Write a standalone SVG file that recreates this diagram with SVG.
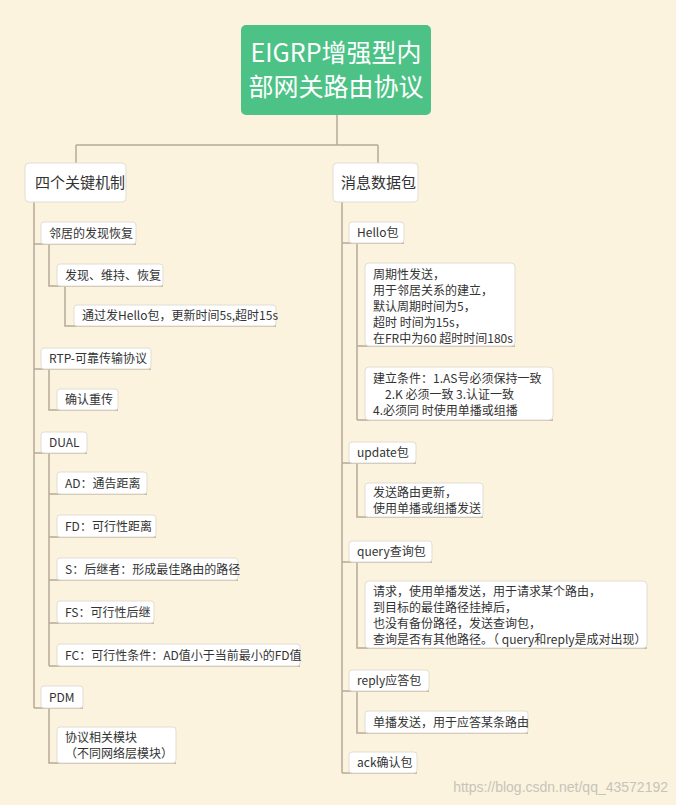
<svg xmlns="http://www.w3.org/2000/svg" width="676" height="805" viewBox="0 0 676 805">
<style>
.b{fill:#fff;stroke:#e2ddd2;stroke-width:1}
.t{font-family:"Noto Sans CJK SC","Liberation Sans",sans-serif;font-size:12px;fill:#333}
.c{fill:none;stroke:#b5ab98;stroke-width:1.5}
</style>
<rect width="676" height="805" fill="#fbf3dd"/>
<g id="connectors" class="c">
<path d="M337 115V145M76 145H378M76 145V163M378 145V163"/>
<path d="M34 202V708M34 244H136M34 369H151M34 453H87M34 708H83"/>
<path d="M49 244V286H163M65 286V326H276M49 369V410H118"/>
<path d="M49 453V666M49 494H147M49 537H156M49 580H238M49 623H154M49 666H300"/>
<path d="M49 708V763H176"/>
<path d="M342 202V773M342 243H404M342 463H416M342 562H432M342 691H429M342 773H417"/>
<path d="M357 243V420M357 346H515M357 420H553M357 463V517H483M357 562V648H647M357 691V733H528"/>
</g>
<g id="root"><rect x="241" y="25" width="190" height="90" rx="5" fill="#4dc286"/>
<text x="336" y="62" text-anchor="middle" font-family="Noto Sans CJK SC,Liberation Sans,sans-serif" font-size="25" fill="#fff">EIGRP增强型内</text>
<text x="336" y="96" text-anchor="middle" font-family="Noto Sans CJK SC,Liberation Sans,sans-serif" font-size="25" fill="#fff">部网关路由协议</text></g>
<g id="n1"><rect class="b" x="25" y="163" width="101" height="39" rx="4"/><text class="t" x="35" y="188" style="font-size:15px">四个关键机制</text></g>
<g id="n2"><rect class="b" x="333" y="163" width="85" height="39" rx="4"/><text class="t" x="341" y="188" style="font-size:15px">消息数据包</text></g>
<g id="a1"><rect class="b" x="41" y="222" width="95" height="22" rx="3"/><text class="t" x="49" y="238">邻居的发现恢复</text></g>
<g id="a2"><rect class="b" x="57" y="264" width="106" height="22" rx="3"/><text class="t" x="65" y="280">发现、维持、恢复</text></g>
<g id="a3"><rect class="b" x="74" y="305" width="202" height="21" rx="3"/><text class="t" x="82" y="320">通过发Hello包，更新时间5s,超时15s</text></g>
<g id="a4"><rect class="b" x="41" y="348" width="110" height="21" rx="3"/><text class="t" x="49" y="363">RTP-可靠传输协议</text></g>
<g id="a5"><rect class="b" x="57" y="389" width="61" height="21" rx="3"/><text class="t" x="65" y="404">确认重传</text></g>
<g id="a6"><rect class="b" x="41" y="432" width="46" height="21" rx="3"/><text class="t" x="49" y="447">DUAL</text></g>
<g id="a7"><rect class="b" x="57" y="472" width="90" height="22" rx="3"/><text class="t" x="65" y="488">AD：通告距离</text></g>
<g id="a8"><rect class="b" x="57" y="515" width="99" height="22" rx="3"/><text class="t" x="65" y="531">FD：可行性距离</text></g>
<g id="a9"><rect class="b" x="57" y="558" width="181" height="22" rx="3"/><text class="t" x="65" y="574">S：后继者：形成最佳路由的路径</text></g>
<g id="a10"><rect class="b" x="57" y="601" width="97" height="22" rx="3"/><text class="t" x="65" y="617">FS：可行性后继</text></g>
<g id="a11"><rect class="b" x="57" y="644" width="243" height="22" rx="3"/><text class="t" x="65" y="660">FC：可行性条件：AD值小于当前最小的FD值</text></g>
<g id="a12"><rect class="b" x="41" y="686" width="42" height="22" rx="3"/><text class="t" x="49" y="702">PDM</text></g>
<g id="a13"><rect class="b" x="57" y="727" width="119" height="36" rx="3"/><text class="t" x="65" y="742">协议相关模块</text><text class="t" x="65" y="758">（不同网络层模块）</text></g>
<g id="b1"><rect class="b" x="349" y="222" width="55" height="21" rx="3"/><text class="t" x="357" y="237">Hello包</text></g>
<g id="b2"><rect class="b" x="365" y="263" width="150" height="83" rx="4"/>
<text class="t" x="373" y="279">周期性发送，</text><text class="t" x="373" y="295">用于邻居关系的建立，</text><text class="t" x="373" y="311">默认周期时间为5，</text><text class="t" x="373" y="327">超时 时间为15s，</text><text class="t" x="373" y="343">在FR中为60 超时时间180s</text></g>
<g id="b3"><rect class="b" x="365" y="367" width="188" height="53" rx="4"/>
<text class="t" x="373" y="383">建立条件：1.AS号必须保持一致</text><text class="t" x="385" y="399">2.K  必须一致      3.认证一致</text><text class="t" x="373" y="415">4.必须同 时使用单播或组播</text></g>
<g id="b4"><rect class="b" x="349" y="442" width="67" height="21" rx="3"/><text class="t" x="357" y="457">update包</text></g>
<g id="b5"><rect class="b" x="365" y="483" width="118" height="34" rx="3"/><text class="t" x="373" y="497">发送路由更新，</text><text class="t" x="373" y="513">使用单播或组播发送</text></g>
<g id="b6"><rect class="b" x="349" y="541" width="83" height="21" rx="3"/><text class="t" x="357" y="556">query查询包</text></g>
<g id="b7"><rect class="b" x="365" y="581" width="282" height="67" rx="4"/>
<text class="t" x="373" y="596">请求，使用单播发送，用于请求某个路由，</text><text class="t" x="373" y="612">到目标的最佳路径挂掉后，</text><text class="t" x="373" y="628">也没有备份路径，发送查询包，</text><text class="t" x="373" y="644">查询是否有其他路径。（ query和reply是成对出现）</text></g>
<g id="b8"><rect class="b" x="349" y="670" width="80" height="21" rx="3"/><text class="t" x="357" y="685">reply应答包</text></g>
<g id="b9"><rect class="b" x="365" y="711" width="163" height="22" rx="3"/><text class="t" x="373" y="727">单播发送，用于应答某条路由</text></g>
<g id="b10"><rect class="b" x="349" y="752" width="68" height="21" rx="3"/><text class="t" x="357" y="767">ack确认包</text></g>
<text x="668" y="792" text-anchor="end" font-family="Liberation Sans,sans-serif" font-size="14" fill="#c8c3ba">https://blog.csdn.net/qq_43572192</text>
</svg>
